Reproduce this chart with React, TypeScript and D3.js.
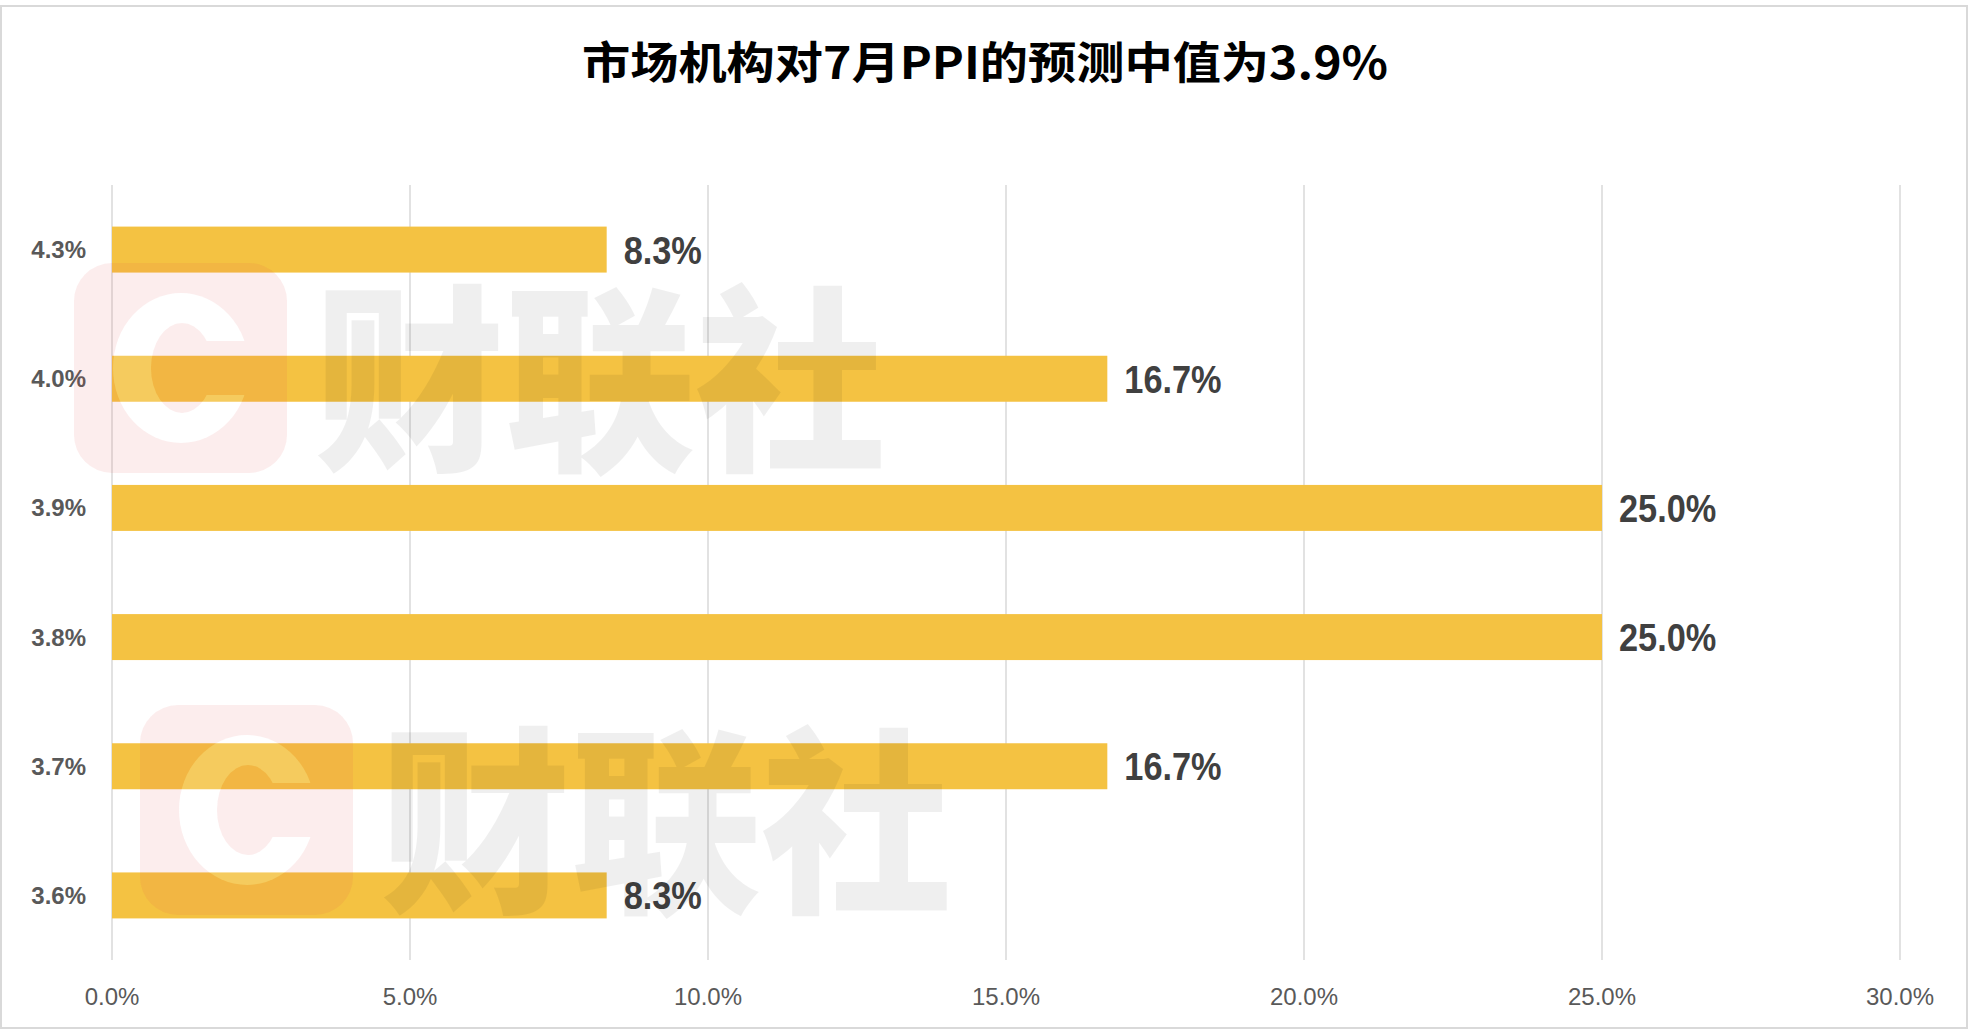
import * as d3 from "d3";

const TITLE = "市场机构对7月PPI的预测中值为3.9%";
const CATEGORIES = ["4.3%", "4.0%", "3.9%", "3.8%", "3.7%", "3.6%"];
const VALUES = [8.3, 16.7, 25.0, 25.0, 16.7, 8.3];
const X_TICKS = [0, 5, 10, 15, 20, 25, 30];
const WATERMARK_TEXT = "财联社";

const WIDTH = 1970;
const HEIGHT = 1032;
const BAR_COLOR = "#F4C242";
const GRID_COLOR = "#D9D9D9";
const LABEL_COLOR = "#595959";
const VALUE_COLOR = "#404040";
const WATERMARK_ORIGINS: [number, number][] = [
  [74, 263],
  [140, 705],
];

function Watermark({ x, y, id }: { x: number; y: number; id: string }) {
  // "C" logo shape in local coords of the 213x210 rounded square
  const cShape = (fg: string, bg: string) => (
    <>
      <rect x={-10} y={-10} width={240} height={230} fill={bg} />
      <ellipse cx={107} cy={105} rx={68} ry={75} fill={fg} />
      <ellipse cx={108} cy={105} rx={31} ry={45} fill={bg} />
      <rect x={108} y={78} width={120} height={54} fill={bg} />
    </>
  );
  return (
    <g transform={`translate(${x},${y})`}>
      <defs>
        <mask id={`${id}-hole`}>{cShape("black", "white")}</mask>
        <mask id={`${id}-c`}>{cShape("white", "black")}</mask>
      </defs>
      <rect
        width={213}
        height={210}
        rx={38}
        fill="rgb(230,80,80)"
        fillOpacity={0.1}
        mask={`url(#${id}-hole)`}
      />
      <rect width={213} height={210} fill="#fff" fillOpacity={0.15} mask={`url(#${id}-c)`} />
      <text
        x={240}
        y={105}
        dominantBaseline="central"
        fontFamily="'Noto Sans CJK SC', sans-serif"
        fontWeight={900}
        fontSize={200}
        textLength={572}
        lengthAdjust="spacingAndGlyphs"
        fill="#000"
        fillOpacity={0.063}
      >
        {WATERMARK_TEXT}
      </text>
    </g>
  );
}

export default function App() {
  const x = d3.scaleLinear().domain([0, 30]).range([112, 1900]);
  const y = d3
    .scaleBand<string>()
    .domain(CATEGORIES)
    .range([185, 960])
    .paddingInner(0.644)
    .paddingOuter(0.322);
  const bw = y.bandwidth();

  return (
    <svg
      width={WIDTH}
      height={HEIGHT}
      viewBox={`0 0 ${WIDTH} ${HEIGHT}`}
      style={{ position: "absolute", left: 0, top: 0, background: "#fff" }}
    >
      <rect x={1} y={6} width={1966} height={1022} fill="#fff" stroke={GRID_COLOR} strokeWidth={2} />

      <text
        x={985}
        y={79}
        textAnchor="middle"
        fontFamily="'Noto Sans CJK SC', sans-serif"
        fontWeight="bold"
        fontSize={44}
        textLength={806}
        lengthAdjust="spacingAndGlyphs"
        fill="#000"
      >
        {TITLE}
      </text>

      {/* vertical gridlines */}
      {X_TICKS.map((t) => (
        <line
          key={t}
          x1={x(t)}
          x2={x(t)}
          y1={185}
          y2={960}
          stroke={GRID_COLOR}
          strokeWidth={1.5}
        />
      ))}

      {/* bars */}
      {CATEGORIES.map((c, i) => (
        <rect key={c} x={x(0)} y={y(c)!} width={x(VALUES[i]) - x(0)} height={bw} fill={BAR_COLOR} />
      ))}

      {/* value labels */}
      {CATEGORIES.map((c, i) => {
        const cy = y(c)! + bw / 2;
        return (
          <text
            key={c}
            transform={`translate(${x(VALUES[i]) + 17},${cy + 14}) scale(0.88,1)`}
            fontFamily="'Liberation Sans', Arial, sans-serif"
            fontWeight="bold"
            fontSize={39}
            fill={VALUE_COLOR}
          >
            {VALUES[i].toFixed(1)}%
          </text>
        );
      })}

      {/* category labels */}
      {CATEGORIES.map((c) => (
        <text
          key={c}
          x={86}
          y={y(c)! + bw / 2 + 8.5}
          textAnchor="end"
          fontFamily="'Liberation Sans', Arial, sans-serif"
          fontWeight="bold"
          fontSize={24}
          fill={LABEL_COLOR}
        >
          {c}
        </text>
      ))}

      {/* x axis tick labels */}
      {X_TICKS.map((t) => (
        <text
          key={t}
          x={x(t)}
          y={1005}
          textAnchor="middle"
          fontFamily="'Liberation Sans', Arial, sans-serif"
          fontSize={24}
          fill={LABEL_COLOR}
        >
          {t.toFixed(1)}%
        </text>
      ))}

      {WATERMARK_ORIGINS.map(([wx, wy], i) => (
        <Watermark key={i} x={wx} y={wy} id={`wm${i}`} />
      ))}
    </svg>
  );
}
